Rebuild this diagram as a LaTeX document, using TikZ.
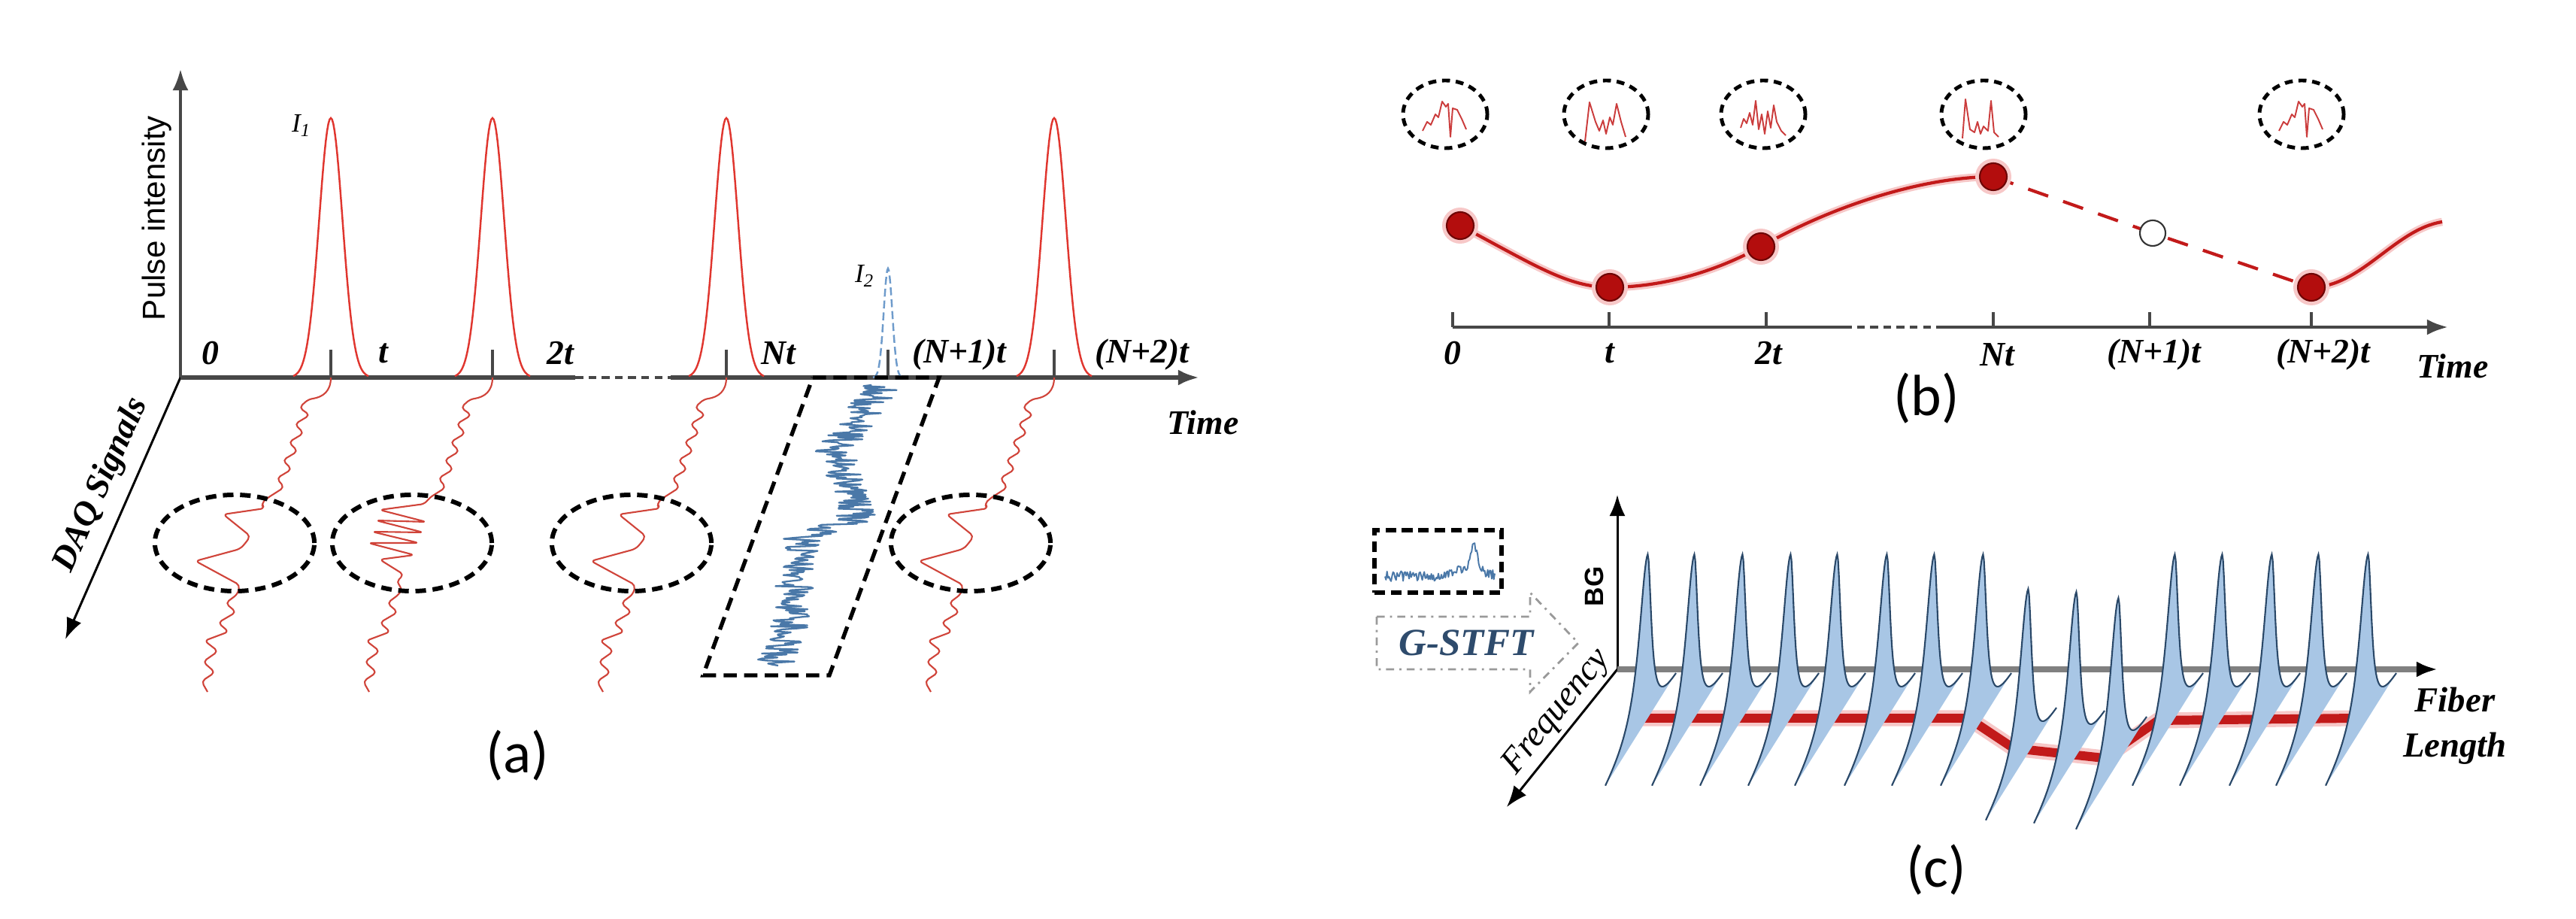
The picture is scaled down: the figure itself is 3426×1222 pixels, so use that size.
\documentclass[tikz,border=0pt]{standalone}
\usepackage{fontspec}
\setmainfont{Liberation Serif}
\newfontfamily\sansf{Liberation Sans}
\newfontfamily\carl{Carlito}
\usetikzlibrary{arrows.meta,shapes.geometric}
\definecolor{pulsered}{HTML}{E0362F}
\definecolor{tracered}{HTML}{D0443A}
\definecolor{axisgray}{HTML}{474747}
\definecolor{curvered}{HTML}{C21A1A}
\definecolor{dotred}{HTML}{B30D0D}
\definecolor{dotedge}{HTML}{6E0505}
\definecolor{glowred}{HTML}{F7C8C8}
\definecolor{sigblue}{HTML}{4A78A8}
\definecolor{pulseblue}{HTML}{6E9BCB}
\definecolor{specfill}{HTML}{A8C6E5}
\definecolor{specline}{HTML}{2A4868}
\definecolor{gstftblue}{HTML}{2E4B6C}
\definecolor{fibgray}{HTML}{808080}
\definecolor{arrgray}{HTML}{9A9A9A}
\newcommand\apulse[1]{\draw[pulseln] plot[domain=-50:50,samples=61] ({#1+\x},{502-345*exp(-((\x/22)^2))});}
\newcommand\daqA[1]{\draw[traceln,shift={(#1,502)}] (0,0) .. controls (0,18) and (-10,26) .. (-30,29) -- (-42,40) -- (-28,50) -- (-48,62) -- (-36,74) -- (-56,86) -- (-44,98) -- (-64,110) -- (-52,122) -- (-72,134) -- (-62,146) -- (-84,160) -- (-93,168) -- (-88,174) -- (-143,182) -- (-107,211) -- (-115,222) -- (-121,228) -- (-180,244) -- (-121,276) -- (-124,288) -- (-140,300) -- (-126,312) -- (-150,326) -- (-136,338) -- (-168,350) -- (-150,364) -- (-170,378) -- (-154,392) -- (-172,404) -- (-164,418);}
\newcommand\daqB[1]{\draw[traceln,shift={(#1,502)}] (0,0) .. controls (0,18) and (-10,26) .. (-30,29) -- (-42,40) -- (-28,50) -- (-48,62) -- (-36,74) -- (-56,86) -- (-44,98) -- (-64,110) -- (-52,122) -- (-72,134) -- (-62,146) -- (-84,160) -- (-90,168) -- (-150,176) -- (-88,192) -- (-155,190) -- (-92,206) -- (-160,205) -- (-98,220) -- (-165,220) -- (-104,236) -- (-150,242) -- (-118,262) -- (-128,272) -- (-120,280) -- (-124,288) -- (-140,300) -- (-126,312) -- (-150,326) -- (-136,338) -- (-168,350) -- (-150,364) -- (-170,378) -- (-154,392) -- (-172,404) -- (-164,418);}
\newcommand\spec[2]{%
  \fill[specfill] plot[domain=0:1,samples=81] ({#1+38-94*\x},{900+#2+158*\x-226/(1+((\x-0.4)/(0.06+0.09*(\x>0.4)))^2)}) -- cycle;
  \draw[specline,line width=0.6pt] plot[domain=0:1,samples=81] ({#1+38-94*\x},{900+#2+158*\x-226/(1+((\x-0.4)/(0.06+0.09*(\x>0.4)))^2)});}
\begin{document}
\begin{tikzpicture}[x=0.01cm,y=-0.01cm,
  declare function={bxc(\t)=(\t<600)*(1175-0.7386*(\t-512))+(\t>=600)*(\t<690)*(1110+0.3333*(\t-600))+(\t>=690)*(\t<715)*(1140-3*(\t-690))+(\t>=715)*(\t<833)*(1065-0.127*(\t-715))+(\t>=833)*(1050-0.385*(\t-833));},
  lbl/.style={font=\fontsize{13}{15}\selectfont\bfseries\itshape, inner sep=0pt, text=black},
  pulseln/.style={pulsered, line width=0.7pt},
  traceln/.style={tracered, line width=0.6pt, line join=round, rounded corners=1.5pt},
  axA/.style={axisgray, line width=1.7pt},
  tickln/.style={axisgray, line width=1.1pt},
  bigell/.style={ellipse, draw=black, line width=1.7pt, dash pattern=on 4pt off 2.5pt, minimum width=2.12cm, minimum height=1.28cm, inner sep=0pt},
  smallell/.style={ellipse, draw=black, line width=1.4pt, dash pattern=on 3pt off 2.2pt, minimum width=1.12cm, minimum height=0.9cm, inner sep=0pt},
  minisig/.style={curvered!85!white, line width=0.55pt, line join=round},
  bcurve/.style={curvered, line width=1.2pt},
  bglow/.style={glowred, line width=3pt},
  bdot/.style={circle, fill=dotred, draw=dotedge, line width=0.6pt, minimum size=0.36cm, inner sep=0pt},
  odot/.style={circle, fill=white, draw=black!80, line width=0.6pt, minimum size=0.34cm, inner sep=0pt},
  pgram/.style={draw=black, line width=1.5pt, dash pattern=on 5pt off 2.8pt},
  arr/.style={-{Latex[length=8pt,width=6pt]}},
  sublbl/.style={font=\carl\fontsize{22}{24}\selectfont, inner sep=0pt}
]
\fill[white] (0,0) rectangle (3426,1222);
\useasboundingbox (0,0) rectangle (3426,1222);
\pgfmathsetseed{17}
%% ================= panel (a) =================
\coordinate (oa) at (240,502);
\coordinate (yatop) at (240,92);
\coordinate (daqend) at (87,850);
\coordinate (tend) at (1595,502);
\draw[axA, line width=1.1pt, arr] (oa) -- (yatop);
\draw[black, line width=0.85pt, arr] (oa) -- (daqend);
\draw[axA] (oa) -- (765,502);
\draw[axA, line width=1.4pt, dash pattern=on 3pt off 2pt] (765,502) -- (892,502);
\draw[axA, arr] (892,502) -- (tend);
% ticks
\foreach \tx in {440,655,966,1181,1402} \draw[tickln] (\tx,465) -- (\tx,502);
% pulses
\apulse{440}\apulse{655}\apulse{966}\apulse{1402}
\draw[pulseblue, line width=0.7pt, dash pattern=on 3pt off 1.5pt] plot[domain=-20:20,samples=41] ({1181+\x},{502-145*exp(-((\x/8)^2))});
% DAQ traces
\daqA{440}\daqB{655}\daqA{966}\daqA{1402}
\node[bigell] (ea1) at (312,722) {};
\node[bigell] (ea2) at (548,722) {};
\node[bigell] (ea3) at (840,722) {};
\node[bigell] (ea4) at (1291,722) {};
% parallelogram & blue signal
\coordinate (pg1) at (1081,502);
\coordinate (pg2) at (1249,502);
\coordinate (pg3) at (1103,898);
\coordinate (pg4) at (935,898);
\draw[pgram] (pg1) -- (pg2) -- (pg3) -- (pg4) -- cycle;
\draw[sigblue, line width=0.65pt, line join=round] plot[domain=512:885, samples=280] ({bxc(\x)+26*rand}, {\x});
% labels (a)
\node[font=\sansf\fontsize{12}{14}\selectfont, rotate=90, inner sep=0pt] (pint) at (209,290) {Pulse intensity};
\node[lbl, rotate=66] (daqlbl) at (135,645) {DAQ Signals};
\node[font=\fontsize{10}{12}\selectfont\itshape, inner sep=0pt] (i1) at (401,167) {I\textsubscript{1}};
\node[font=\fontsize{10}{12}\selectfont\itshape, inner sep=0pt] (i2) at (1150,367) {I\textsubscript{2}};
\node[lbl] (a0) at (280,470) {0};
\node[lbl] (a1) at (510,470) {t};
\node[lbl] (a2) at (745,470) {2t};
\node[lbl] (aN) at (1035,470) {Nt};
\node[lbl] (aN1) at (1276,472) {(N+1)t};
\node[lbl] (aN2) at (1519,472) {(N+2)t};
\node[lbl] (atime) at (1600,562) {Time};
\node[sublbl] (labA) at (688,1005) {(a)};
%% ================= panel (b) =================
\draw[axisgray, line width=1.4pt] (1932,435) -- (2452,435);
\draw[axisgray, line width=1.1pt, dash pattern=on 3pt off 2pt] (2452,435) -- (2580,435);
\draw[axisgray, line width=1.4pt, arr] (2580,435) -- (3256,435);
\foreach \tx in {1932,2140,2349,2651,2859,3074} \draw[tickln] (\tx,415) -- (\tx,435);
\node[lbl] (b0) at (1932,470) {0};
\node[lbl] (b1) at (2141,470) {t};
\node[lbl] (b2) at (2352,470) {2t};
\node[lbl] (bN) at (2656,472) {Nt};
\node[lbl] (bN1) at (2865,472) {(N+1)t};
\node[lbl] (bN2) at (3090,472) {(N+2)t};
\node[lbl] (btime) at (3262,487) {Time};
\coordinate (p0) at (1942,300);
\coordinate (p1) at (2141,382);
\coordinate (p2) at (2342,328);
\coordinate (p3) at (2651,235);
\coordinate (pq) at (2863,310);
\coordinate (p5) at (3074,382);
\coordinate (pe) at (3248,295);
\draw[bglow] (p0) .. controls (2040,352) and (2085,382) .. (p1) .. controls (2210,382) and (2280,362) .. (p2) .. controls (2440,272) and (2560,235) .. (p3);
\draw[bglow] (p5) .. controls (3140,382) and (3185,305) .. (pe);
\draw[bcurve] (p0) .. controls (2040,352) and (2085,382) .. (p1) .. controls (2210,382) and (2280,362) .. (p2) .. controls (2440,272) and (2560,235) .. (p3);
\draw[bcurve, dash pattern=on 8pt off 6pt] (p3) -- (pq) -- (p5);
\draw[bcurve] (p5) .. controls (3140,382) and (3185,305) .. (pe);
\foreach \p in {p0,p1,p2,p3,p5} \fill[glowred] (\p) circle (24);
\node[bdot] (d0) at (p0) {};
\node[bdot] (d1) at (p1) {};
\node[bdot] (d2) at (p2) {};
\node[bdot] (d3) at (p3) {};
\node[odot] (dq) at (pq) {};
\node[bdot] (d5) at (p5) {};
% mini circles
\node[smallell] (m1) at (1922,152) {};
\node[smallell] (m2) at (2136,152) {};
\node[smallell] (m3) at (2345,152) {};
\node[smallell] (m4) at (2638,152) {};
\node[smallell] (m5) at (3061,152) {};
\draw[minisig, shift={(1922,152)}] (-30,22) -- (-24,10) -- (-19,14) -- (-13,0) -- (-9,4) -- (-4,-17) -- (1,-10) -- (4,-14) -- (7,30) -- (10,-8) -- (16,-6) -- (22,6) -- (28,20);
\draw[minisig, shift={(2136,152)}] (-28,36) -- (-22,-16) -- (-14,10) -- (-9,22) -- (-4,8) -- (0,26) -- (5,4) -- (9,14) -- (14,-14) -- (20,10) -- (26,30);
\draw[minisig, shift={(2345,152)}] (-30,18) -- (-26,6) -- (-22,12) -- (-18,-2) -- (-14,14) -- (-10,-18) -- (-6,20) -- (-2,0) -- (2,26) -- (6,-4) -- (10,18) -- (14,-12) -- (18,10) -- (24,22) -- (30,28);
\draw[minisig, shift={(2638,152)}] (-28,32) -- (-24,-20) -- (-18,20) -- (-12,24) -- (-8,10) -- (-4,26) -- (0,16) -- (6,22) -- (10,-18) -- (14,24) -- (20,30);
\draw[minisig, shift={(3061,152)}] (-30,22) -- (-24,10) -- (-19,14) -- (-13,0) -- (-9,4) -- (-4,-17) -- (1,-10) -- (4,-14) -- (7,30) -- (10,-8) -- (16,-6) -- (22,6) -- (28,20);
\node[sublbl] (labB) at (2562,530) {(b)};
%% ================= panel (c) =================
\coordinate (oc) at (2151,890);
\coordinate (bgtop) at (2151,658);
\coordinate (freqend) at (2004,1073);
\coordinate (fibend) at (3242,890);
\draw[black, line width=0.85pt, arr] (oc) -- (bgtop);
\draw[black, line width=0.85pt, arr] (oc) -- (freqend);
\draw[fibgray, line width=2pt] (oc) -- (3200,890);
% red line
\draw[glowred, line width=6pt, line join=round] (2175,955) -- (2618,955) -- (2678,995) -- (2798,1008) -- (2870,958) -- (3131,955);
\draw[curvered, line width=3.4pt, line join=round] (2175,955) -- (2618,955) -- (2678,995) -- (2798,1008) -- (2870,958) -- (3131,955);
% spectra
\spec{2191}{0}\spec{2253}{0}\spec{2317}{0}\spec{2381}{0}\spec{2443}{0}\spec{2509}{0}\spec{2572}{0}\spec{2637}{0}
\spec{2697}{46}\spec{2761}{50}\spec{2817}{58}
\spec{2892}{0}\spec{2955}{0}\spec{3021}{0}\spec{3083}{0}\spec{3149}{0}
\draw[fibgray, line width=2pt, -{Latex[length=8pt,width=6pt,color=black]}] (3190,890) -- (fibend);
% inset box
\node[draw=black, line width=1.7pt, dash pattern=on 4pt off 2.2pt, minimum width=1.69cm, minimum height=0.83cm, inner sep=0pt] (inset) at (1912.5,746.5) {};
\draw[sigblue, line width=0.55pt, line join=round] plot[domain=1842:1988, samples=110] ({\x},{766-7*rand-14*exp(-(((\x-1955)/20)^2))-28*exp(-(((\x-1961)/5)^2))});
% G-STFT block arrow
\coordinate (g1) at (1831,820);
\coordinate (g2) at (2035,820);
\coordinate (g3) at (2035,788);
\coordinate (g4) at (2099,855);
\coordinate (g5) at (2035,920);
\coordinate (g6) at (2035,890);
\coordinate (g7) at (1831,890);
\draw[arrgray, line width=0.8pt, dash pattern=on 3pt off 2pt on 0.8pt off 2pt] (g1) -- (g2) -- (g3) -- (g4) -- (g5) -- (g6) -- (g7) -- cycle;
\node[font=\fontsize{14.5}{16}\selectfont\bfseries\itshape, text=gstftblue, inner sep=0pt] (gstft) at (1950,855) {G-STFT};
% labels (c)
\node[font=\sansf\bfseries\fontsize{10}{12}\selectfont, rotate=90, inner sep=0pt] (bglbl) at (2120,780) {BG};
\node[font=\fontsize{13.4}{15}\selectfont\itshape, rotate=51, inner sep=0pt] (freqlbl) at (2071,947) {Frequency};
\node[lbl, align=center, font=\fontsize{13.3}{17}\selectfont\bfseries\itshape] (fiblbl) at (3265,965) {Fiber\\Length};
\node[sublbl] (labC) at (2575,1157) {(c)};
\end{tikzpicture}
\end{document}
